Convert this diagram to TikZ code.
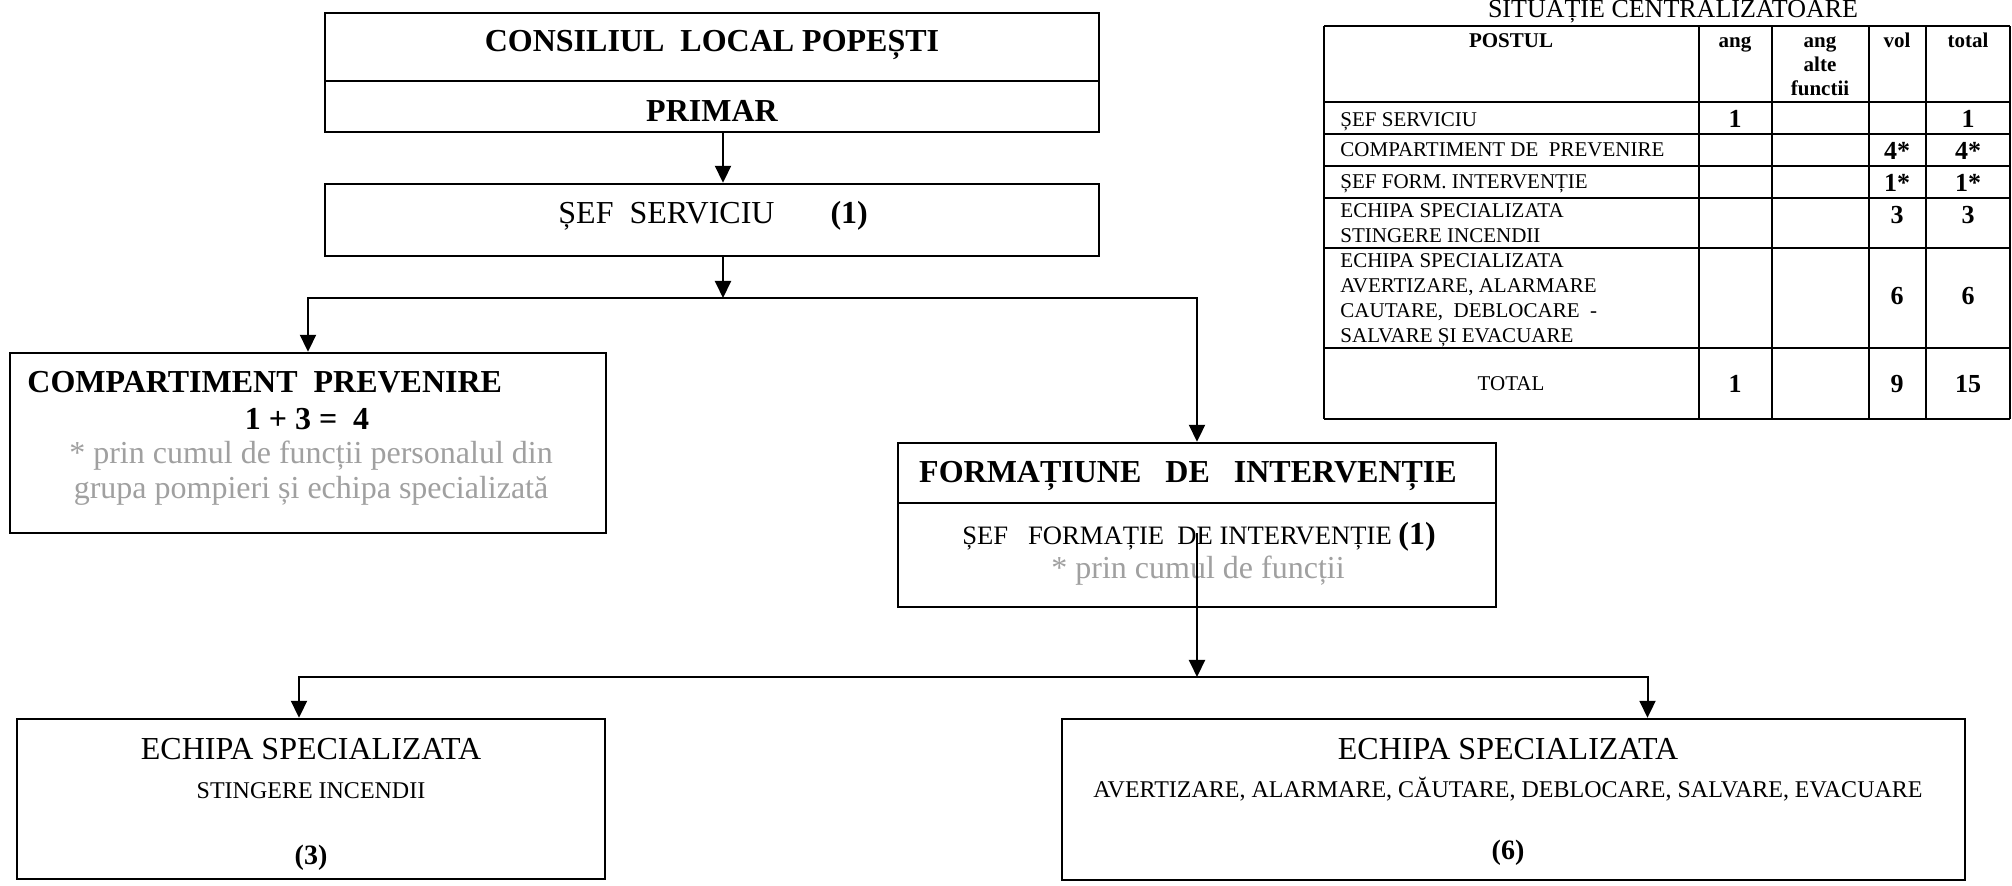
\documentclass[tikz,border=0pt]{standalone}
\usepackage{fontspec}
\setmainfont{Liberation Serif}
\usetikzlibrary{arrows.meta}
\definecolor{lightgr}{RGB}{160,160,160}
\tikzset{
  box/.style={draw, line width=1.2pt, inner sep=0pt},
  arr/.style={line width=1pt, -{Triangle[length=8.5pt,width=8pt]}},
  grid/.style={line width=1pt},
  tb/.style={inner sep=0pt, anchor=base, font=\fontsize{16pt}{19pt}\selectfont\bfseries},
  tr/.style={inner sep=0pt, anchor=base, font=\fontsize{16pt}{19pt}\selectfont},
  tg/.style={inner sep=0pt, anchor=base, text=lightgr, font=\fontsize{16pt}{19pt}\selectfont},
  ts/.style={inner sep=0pt, anchor=base, font=\fontsize{12pt}{14pt}\selectfont},
  tpb/.style={inner sep=0pt, anchor=base, font=\fontsize{14pt}{17pt}\selectfont\bfseries},
  cellh/.style={inner sep=0pt, anchor=base, font=\fontsize{10.5pt}{12pt}\selectfont\bfseries},
  cell/.style={inner sep=0pt, anchor=base west, font=\fontsize{10.5pt}{12pt}\selectfont},
  num/.style={inner sep=0pt, anchor=base, font=\fontsize{13pt}{15pt}\selectfont\bfseries},
}
\begin{document}
\begin{tikzpicture}[x=0.5pt,y=-0.5pt]
\useasboundingbox[fill=white] (0,0) rectangle (2012,886);

% ---- boxes ----
\node[box, minimum width=387pt, minimum height=34pt] (council) at (712,47) {};
\node[box, minimum width=387pt, minimum height=25.5pt] (primar) at (712,106.5) {};
\node[box, minimum width=387pt, minimum height=36pt] (sef) at (712,220) {};
\node[box, minimum width=298pt, minimum height=90pt] (comp) at (308,443) {};
\node[box, minimum width=299pt, minimum height=30pt] (formhead) at (1197,473) {};
\node[box, minimum width=299pt, minimum height=52pt] (formbody) at (1197,555) {};
\node[box, minimum width=294pt, minimum height=80pt] (echL) at (311,799) {};
\node[box, minimum width=451.5pt, minimum height=80.5pt] (echR) at (1513.5,799.5) {};

% ---- texts in boxes ----
\node[tb] (tcouncil) at (712,52) {CONSILIUL\ \ LOCAL POPEȘTI};
\node[tb] (tprimar) at (712,122) {PRIMAR};
\node[tr, anchor=base west] (tsef) at (558,224) {ȘEF\ \ SERVICIU\hspace{28pt}\textbf{(1)}};

\node[tb, anchor=base west] (tcomp1) at (27,393) {COMPARTIMENT\ \ PREVENIRE};
\node[tb] (tcomp2) at (307,430) {1 + 3 =\ \ 4};
\node[tg] (tcomp3) at (311,464) {* prin cumul de funcții personalul din};
\node[tg] (tcomp4) at (311,499) {grupa pompieri și echipa specializată};

\node[tb] (tform1) at (1188,483) {FORMAȚIUNE\ \ \ DE\ \ \ INTERVENȚIE};
\node[inner sep=0pt, anchor=base west, font=\fontsize{13.3pt}{16pt}\selectfont] (tform2) at (962,545) {ȘEF\ \ \ FORMAȚIE\ \ DE INTERVENȚIE \textbf{\fontsize{16pt}{19pt}\selectfont(1)}};
\node[tg] (tform3) at (1198,579) {* prin cumul de funcții};

\node[tr] (techL1) at (311,759) {ECHIPA SPECIALIZATA};
\node[ts] (techL2) at (311,798) {STINGERE INCENDII};
\node[tpb] (techL3) at (311,864) {(3)};

\node[tr] (techR1) at (1508,759) {ECHIPA SPECIALIZATA};
\node[ts] (techR2) at (1508,797) {AVERTIZARE, ALARMARE, CĂUTARE, DEBLOCARE, SALVARE, EVACUARE};
\node[tpb] (techR3) at (1508,859) {(6)};

% ---- connectors ----
\coordinate (j1) at (723,298);
\coordinate (j2) at (1197,677);
\draw[arr] ([xshift=5.5pt]primar.south) -- ([xshift=5.5pt]sef.north);
\draw[arr] ([xshift=5.5pt]sef.south) -- (j1);
\draw[arr] (j1) -| (comp.north);
\draw[arr] (j1) -| (formhead.north);
\draw[arr] ([yshift=11pt]formbody.center) -- (j2);
\draw[arr] (j2) -| ([xshift=-6pt]echL.north);
\draw[arr] (j2) -| ([xshift=67pt]echR.north);

% ---- table ----
\node[inner sep=0pt, anchor=base, font=\fontsize{13pt}{15pt}\selectfont] (ttitle) at (1673,18) {SITUAȚIE CENTRALIZATOARE};
\foreach \yy in {26,102,134,166,198,248,348,419}
  \draw[grid] (1324,\yy) -- (2010,\yy);
\foreach \xx in {1324,1699,1772,1869,1926,2010}
  \draw[grid] (\xx,26) -- (\xx,419);

\node[cellh] (hpost) at (1511,48) {POSTUL};
\node[cellh] (hang) at (1735,48) {ang};
\node[cellh] (halt1) at (1820,48) {ang};
\node[cellh] (halt2) at (1820,72) {alte};
\node[cellh] (halt3) at (1820,96) {functii};
\node[cellh] (hvol) at (1897,48) {vol};
\node[cellh] (htot) at (1968,48) {total};

\node[cell] (r1) at (1340,127) {ȘEF SERVICIU};
\node[num] (r1a) at (1735,128) {1};
\node[num] (r1t) at (1968,128) {1};

\node[cell] (r2) at (1340,157) {COMPARTIMENT DE\ \ PREVENIRE};
\node[num] (r2v) at (1897,160) {4*};
\node[num] (r2t) at (1968,160) {4*};

\node[cell] (r3) at (1340,189) {ȘEF FORM. INTERVENȚIE};
\node[num] (r3v) at (1897,192) {1*};
\node[num] (r3t) at (1968,192) {1*};

\node[cell] (r4a) at (1340,218) {ECHIPA SPECIALIZATA};
\node[cell] (r4b) at (1340,243) {STINGERE INCENDII};
\node[num] (r4v) at (1897,224) {3};
\node[num] (r4t) at (1968,224) {3};

\node[cell] (r5a) at (1340,268) {ECHIPA SPECIALIZATA};
\node[cell] (r5b) at (1340,293) {AVERTIZARE, ALARMARE};
\node[cell] (r5c) at (1340,318) {CAUTARE,\ \ DEBLOCARE\ \ -};
\node[cell] (r5d) at (1340,343) {SALVARE ȘI EVACUARE};
\node[num] (r5v) at (1897,305) {6};
\node[num] (r5t) at (1968,305) {6};

\node[inner sep=0pt, anchor=base, font=\fontsize{10.5pt}{12pt}\selectfont] (r6) at (1511,391) {TOTAL};
\node[num] (r6a) at (1735,393) {1};
\node[num] (r6v) at (1897,393) {9};
\node[num] (r6t) at (1968,393) {15};
\end{tikzpicture}
\end{document}
